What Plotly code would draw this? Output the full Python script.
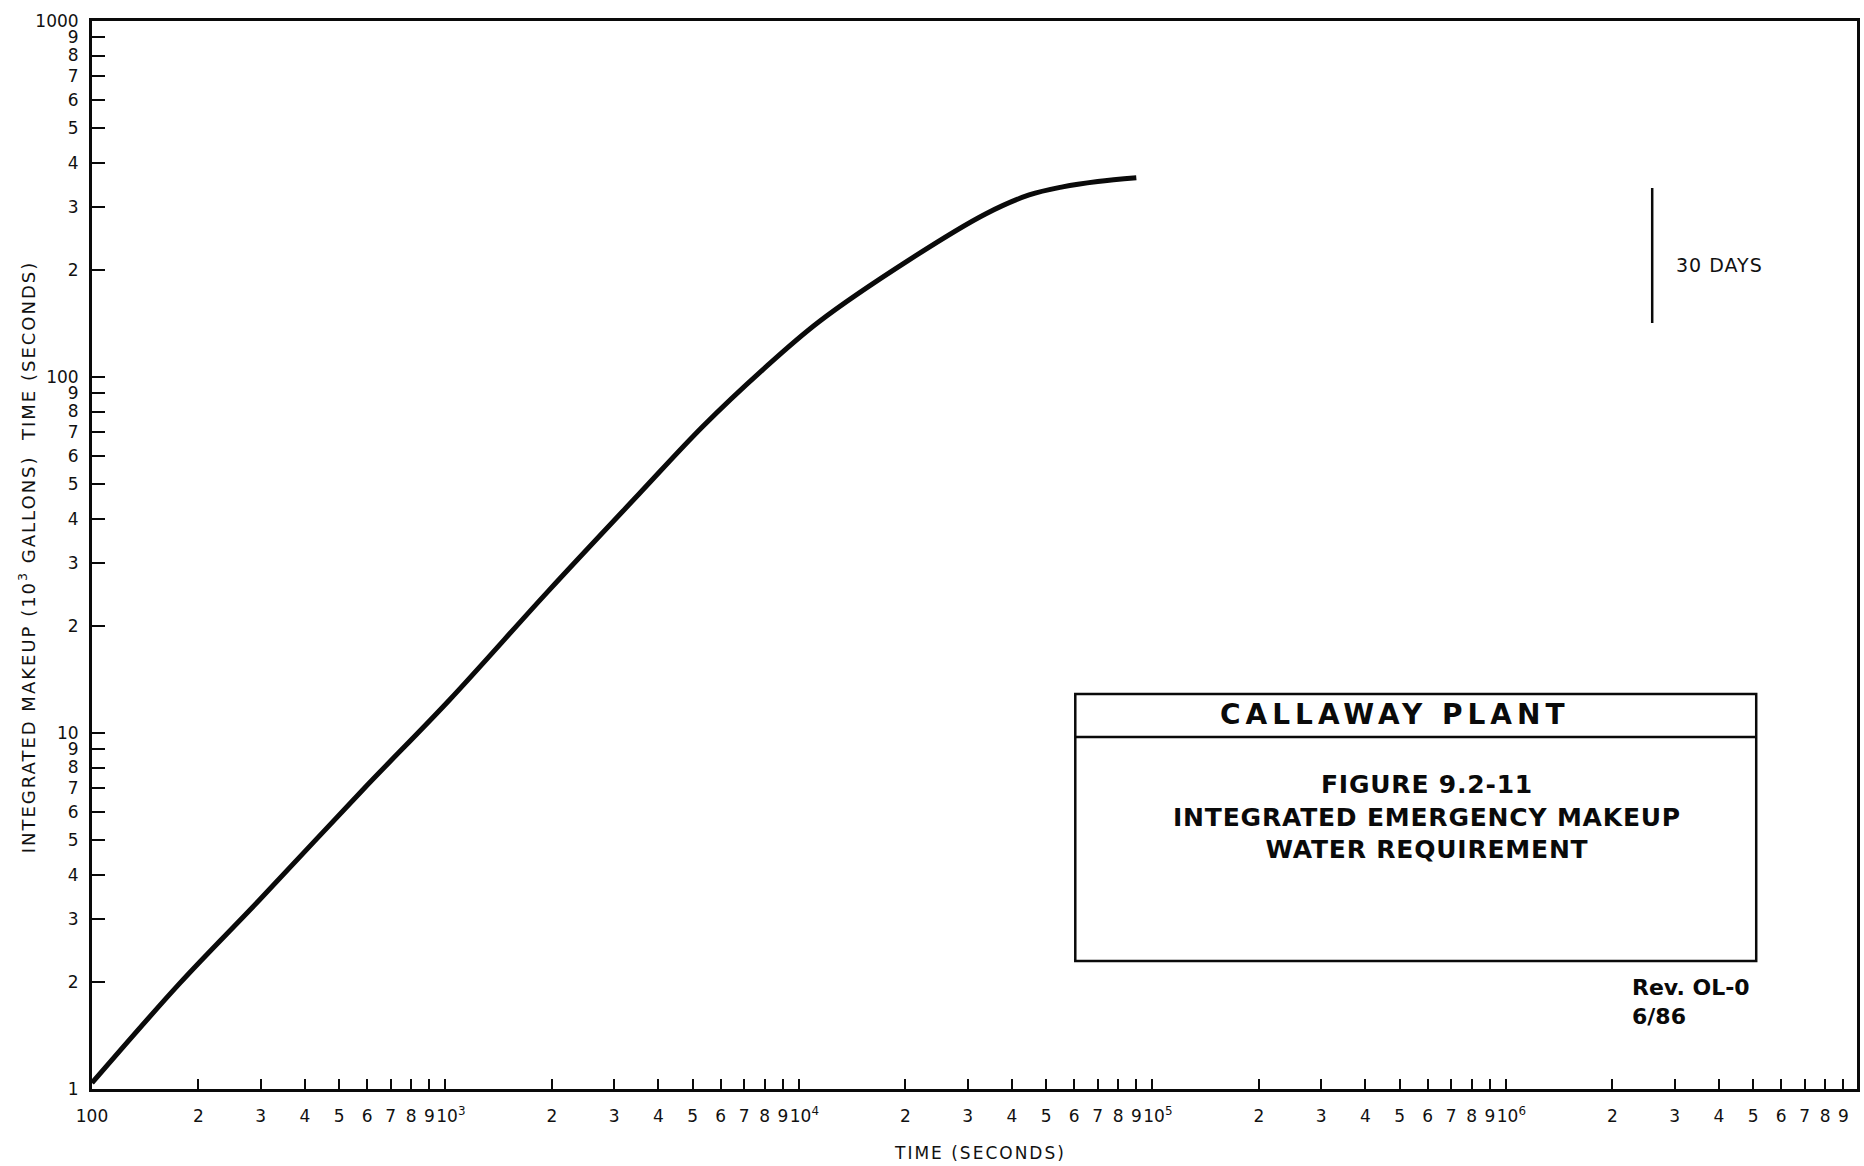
import plotly.graph_objects as go

# Integrated emergency makeup water requirement vs. time after event
time_s = [100, 177, 298, 583, 1026, 1950, 3532, 5333, 7878, 11390,
          20450, 33700, 44780, 55710, 70000, 90000]
makeup_kgal = [1.04, 1.98, 3.40, 6.92, 12.38, 25.0, 47.0, 72.5, 104.6, 143,
               213, 287, 324.6, 342, 354, 363]

# 30-day marker
marker_days = 30
marker_time_s = marker_days * 86400
marker_y = [141.8, 339.6]

# Axis tick definitions
x_decades = [100, 1000, 10000, 100000, 1000000]
x_decade_labels = ["100", "&nbsp;&nbsp;10<sup>3</sup>", "&nbsp;&nbsp;10<sup>4</sup>",
                   "&nbsp;&nbsp;10<sup>5</sup>", "&nbsp;&nbsp;10<sup>6</sup>"]
y_decades = [1, 10, 100]
y_decade_labels = ["1", "10", "100"]
steps = [1, 2, 3, 4, 5, 6, 7, 8, 9]

x_tickvals, x_ticktext = [], []
for d, lab in zip(x_decades, x_decade_labels):
    for m in steps:
        x_tickvals.append(m * d)
        x_ticktext.append(lab if m == 1 else str(m))

y_tickvals, y_ticktext = [], []
for d, lab in zip(y_decades, y_decade_labels):
    for m in steps:
        y_tickvals.append(m * d)
        y_ticktext.append(lab if m == 1 else str(m))
y_tickvals.append(1000)
y_ticktext.append("1000")

FONT = "DejaVu Sans, Verdana, sans-serif"
INK = "#0a0a0a"


def spaced(text, px):
    """Wrap text in a span with extra letter spacing."""
    return f'<span style="letter-spacing:{px}px">{text}</span>'


fig = go.Figure()
fig.add_trace(go.Scatter(
    x=time_s, y=makeup_kgal, mode="lines",
    line=dict(color=INK, width=5, shape="spline", smoothing=1.0),
    hoverinfo="skip", showlegend=False,
))
fig.add_trace(go.Scatter(
    x=[marker_time_s, marker_time_s], y=marker_y, mode="lines",
    line=dict(color=INK, width=2.5),
    hoverinfo="skip", showlegend=False,
))

axis_common = dict(
    showline=True, linecolor=INK, linewidth=3, mirror=True,
    showgrid=False, zeroline=False,
    ticks="inside", tickcolor=INK, tickwidth=2,
    tickfont=dict(family=FONT, size=17, color="#111"),
)

fig.update_xaxes(
    type="log", range=[2, 6.993], tickangle=0,
    tickmode="array", tickvals=x_tickvals, ticktext=x_ticktext,
    ticklen=10, ticklabelstandoff=10,
    **axis_common,
)
fig.update_yaxes(
    type="log", range=[0, 3],
    tickmode="array", tickvals=y_tickvals, ticktext=y_ticktext,
    ticklen=13, ticklabelstandoff=7,
    **axis_common,
)

# Title block
fig.add_shape(type="rect", xref="paper", yref="paper",
              x0=0.5571, x1=0.9429, y0=0.1199, y1=0.3699,
              line=dict(color=INK, width=2.5), fillcolor="white")
fig.add_shape(type="line", xref="paper", yref="paper",
              x0=0.5571, x1=0.9429, y0=0.3296, y1=0.3296,
              line=dict(color=INK, width=2.5))

annotations = [
    dict(text="<b>" + spaced("CALLAWAY PLANT", 5) + "</b>", x=0.7381, y=0.3511,
         font=dict(family=FONT, size=28, color=INK),
         xanchor="center", yanchor="middle"),
    dict(text="<b>" + spaced("FIGURE 9.2-11<br>INTEGRATED EMERGENCY MAKEUP<br>WATER REQUIREMENT", 0.8) + "</b>",
         x=0.7562, y=0.2547, align="center",
         font=dict(family=FONT, size=25, color=INK),
         xanchor="center", yanchor="middle"),
    dict(text="<b>Rev. OL-0<br>6/86</b>", x=0.8716, y=0.081, align="left",
         font=dict(family=FONT, size=22, color=INK),
         xanchor="left", yanchor="middle"),
    dict(text=spaced("30 DAYS", 1), x=0.8965, y=0.7715,
         font=dict(family=FONT, size=19, color="#111"),
         xanchor="left", yanchor="middle"),
    dict(text=spaced("TIME (SECONDS)", 2), x=0.503, y=-0.0599,
         font=dict(family=FONT, size=17, color="#111"),
         xanchor="center", yanchor="middle"),
    dict(text=spaced("INTEGRATED MAKEUP (10<sup>3</sup> GALLONS)  TIME (SECONDS)", 2),
         x=-0.0367, y=0.498, textangle=-90,
         font=dict(family=FONT, size=18, color="#111"),
         xanchor="center", yanchor="middle"),
]
for a in annotations:
    a.update(xref="paper", yref="paper", showarrow=False)
fig.update_layout(annotations=annotations)

fig.update_layout(
    width=1864, height=1166,
    margin=dict(l=92, r=4, t=21, b=77),
    paper_bgcolor="white", plot_bgcolor="white",
)

fig.write_html("out.html")
